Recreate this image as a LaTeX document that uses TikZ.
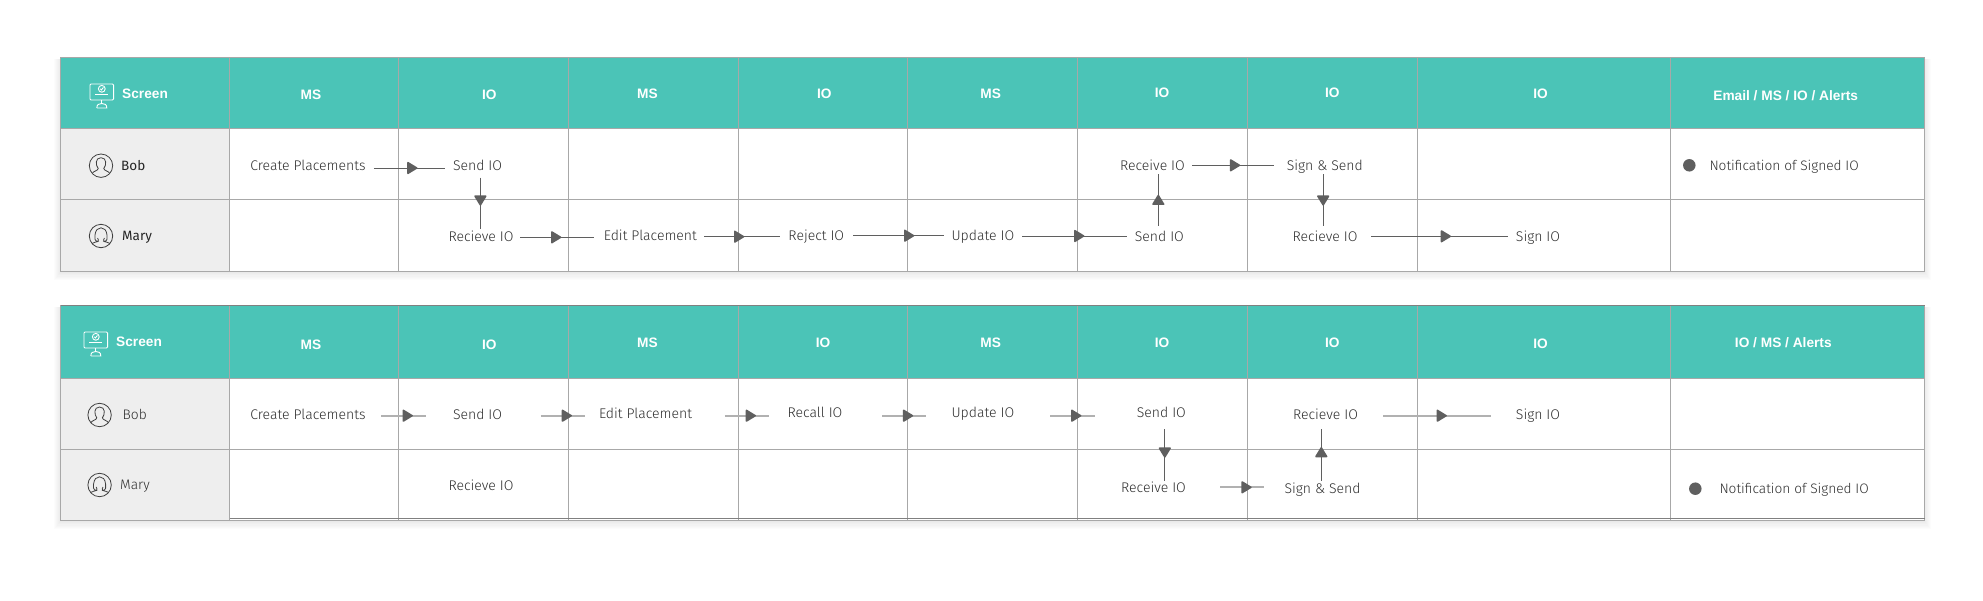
\documentclass[tikz,border=0pt]{standalone}
\usepackage{fontspec}
\setmainfont{Liberation Sans}
\newfontfamily\lightfont{Fira Sans Light}
\newfontfamily\regfont{Fira Sans}
\usetikzlibrary{arrows.meta,decorations.markings,calc}
\definecolor{teal1}{HTML}{4BC4B7}
\definecolor{rowgray}{HTML}{EEEEEE}
\definecolor{gridc}{HTML}{A8A8A8}
\definecolor{headgray}{HTML}{5F5F5F}
\definecolor{txtc}{HTML}{2E2E2E}
\tikzset{
  hd/.tip={Triangle[length=11pt,width=13pt,round,line width=1.5pt,color=headgray]},
  grid line/.style={draw=gridc,line width=1pt},
  lbl/.style={font=\lightfont\fontsize{14}{15}\selectfont,text=txtc,inner sep=0pt,text height=10pt,text depth=.5pt,minimum height=14pt,anchor=center},
  notelbl/.style={lbl,font=\lightfont\fontsize{13.7}{15}\selectfont,anchor=west},
  hdr/.style={font=\bfseries\fontsize{13.7}{15}\selectfont,text=white,inner sep=0pt,text height=10pt,text depth=.5pt,anchor=center},
  namedark/.style={font=\regfont\fontsize{13.5}{15}\selectfont,text=black!85,inner sep=0pt,text height=10pt,text depth=.5pt,anchor=west},
  namelight/.style={font=\lightfont\fontsize{13.8}{15}\selectfont,text=txtc,inner sep=0pt,text height=10pt,text depth=.5pt,anchor=west},
  darkflow/.style={draw=headgray,line width=1pt},
  lightflow/.style={draw=gridc!90,line width=2pt},
  dotmark/.style={circle,fill=headgray,draw=none,minimum size=12.5pt,inner sep=0pt},
}
% from, to, gap1, gap2, y, tip x, style
\newcommand{\hflow}[7]{%
  \pgfpointanchor{#1}{east}\pgfgetlastxy{\ax}{\ay}%
  \pgfmathsetlengthmacro{\dist}{#6pt-\ax-#3pt}%
  \draw[#7,postaction={decorate},decoration={markings,mark=at position \dist with {\arrow{hd}}}]
    ([xshift=#3pt]#1.east |- 0,#5) -- ([xshift=-#4pt]#2.west |- 0,#5);}
% from, to, x, gap1, gap2, tip y : downward
\newcommand{\dflow}[6]{%
  \pgfpointanchor{#1}{south}\pgfgetlastxy{\ax}{\ay}%
  \pgfmathsetlengthmacro{\dist}{#6pt+\ay-#4pt}%
  \draw[darkflow,postaction={decorate},decoration={markings,mark=at position \dist with {\arrow{hd}}}]
    ([yshift=-#4pt]#3,0 |- #1.south) -- ([yshift=#5pt]#3,0 |- #2.north);}
% upward
\newcommand{\uflow}[6]{%
  \pgfpointanchor{#1}{north}\pgfgetlastxy{\ax}{\ay}%
  \pgfmathsetlengthmacro{\dist}{-\ay-#4pt-#6pt}%
  \draw[darkflow,postaction={decorate},decoration={markings,mark=at position \dist with {\arrow{hd}}}]
    ([yshift=#4pt]#3,0 |- #1.north) -- ([yshift=-#5pt]#3,0 |- #2.south);}
% monitor icon
\newcommand{\monitor}[2]{%
  \begin{scope}[shift={(#1,#2)},draw=white,line width=.9pt]
    \draw[rounded corners=1pt] (-11.8,-8) rectangle (11.8,8);
    \draw (0,-3.2) circle (3.4);
    \draw (-1.6,-3.2) -- (-.4,-2) -- (1.6,-4.6);
    \draw (-6.5,2.8) -- (6.5,2.8);
    \draw (0,8) -- (0,11.5);
    \draw (-5,16) -- (5,16) .. controls (5,12.5) and (3,11.5) .. (0,11.5) .. controls (-3,11.5) and (-5,12.5) .. (-5,16);
  \end{scope}}
% person icons
\newcommand{\manicon}[2]{%
  \begin{scope}[shift={(#1,#2)},draw=black!75,line width=.8pt]
    \draw (0,0) circle (11.7);
    \draw (-8.8,7.7) .. controls (-7.5,5.2) and (-3.2,5.2) .. (-2.8,2.8)
      .. controls (-5.5,-.5) and (-6,-8) .. (0,-8)
      .. controls (6,-8) and (5.5,-.5) .. (2.8,2.8)
      .. controls (3.2,5.2) and (7.5,5.2) .. (8.8,7.7);
  \end{scope}}
\newcommand{\womanicon}[2]{%
  \begin{scope}[shift={(#1,#2)},draw=black!75,line width=.8pt]
    \draw (0,0) circle (11.7);
    \draw (-9,7.5) .. controls (-7.5,6) and (-5,6.5) .. (-3.2,5.5)
      .. controls (-6.5,5) and (-6.5,2) .. (-6,-1)
      .. controls (-5.5,-6) and (-3,-8.2) .. (0,-8.2)
      .. controls (3,-8.2) and (5.5,-6) .. (6,-1)
      .. controls (6.5,2) and (6.5,5) .. (3.2,5.5)
      .. controls (5,6.5) and (7.5,6) .. (9,7.5);
    \draw (-3.2,5.5) .. controls (-2.2,4.5) and (-2.6,3.5) .. (-3.4,2);
    \draw (3.2,5.5) .. controls (2.2,4.5) and (2.6,3.5) .. (3.4,2);
  \end{scope}}
% shadow
\newcommand{\softshadow}[4]{%
  \foreach \k in {1,...,7}{
    \fill[black,opacity=.012] (#1-\k*.9,#2+1) rectangle (#3+\k*.9,#4+\k*1.25);
  }}
% table frame: top, header bottom, row, bottom
\newcommand{\tableframe}[4]{%
  \softshadow{60.5}{#1}{1924.5}{#4}
  \fill[white] (60.5,#1) rectangle (1924.5,#4);
  \fill[teal1] (60.5,#1) rectangle (1924.5,#2);
  \fill[rowgray] (60.5,#2) rectangle (229.5,#4);
  \foreach \cx in {229.5,398.5,568.5,738.5,907.5,1077.5,1247.5,1417.5,1670.5}{
    \draw[grid line] (\cx,#1) -- (\cx,#4);
  }
  \draw[grid line] (60.5,#1) rectangle (1924.5,#4);
  \draw[grid line] (60.5,#2) -- (1924.5,#2);
  \draw[grid line] (60.5,#3) -- (1924.5,#3);
}
\begin{document}
\begin{tikzpicture}[x=1pt,y=-1pt]
\useasboundingbox (0,0) rectangle (1983,600);
\fill[white] (0,0) rectangle (1983,600);
% ---------- table 1
\tableframe{57.5}{128.5}{199.5}{271.5}
\monitor{101.8}{92}
\node[hdr,anchor=west] (t1screen) at (122,94) {Screen};
\node[hdr] (t1h1) at (311,94.7) {MS};
\node[hdr] (t1h2) at (489.3,94.7) {IO};
\node[hdr] (t1h3) at (647.5,94) {MS};
\node[hdr] (t1h4) at (824.3,94) {IO};
\node[hdr] (t1h5) at (990.7,94) {MS};
\node[hdr] (t1h6) at (1162,93) {IO};
\node[hdr] (t1h7) at (1332.4,93) {IO};
\node[hdr] (t1h8) at (1540.6,94) {IO};
\node[hdr] (t1h9) at (1785.7,96) {Email / MS / IO / Alerts};
\manicon{101}{165.7}
\womanicon{101}{236}
\node[namedark] (t1bob) at (121,166) {Bob};
\node[namedark] (t1mary) at (122,236) {Mary};
\node[lbl] (t1cp) at (308,166) {Create Placements};
\node[lbl] (t1sd) at (477.6,166) {Send IO};
\node[lbl] (t1rc) at (481,237) {Recieve IO};
\node[lbl] (t1ed) at (650.4,236) {Edit Placement};
\node[lbl] (t1rj) at (816.3,236) {Reject IO};
\node[lbl] (t1up) at (982.9,236) {Update IO};
\node[lbl] (t1se) at (1159.4,236.7) {Send IO};
\node[lbl] (t1rv) at (1152.4,165.7) {Receive IO};
\node[lbl] (t1ss) at (1324.8,165.7) {Sign \& Send};
\node[lbl] (t1rd) at (1325,237) {Recieve IO};
\node[lbl] (t1sg) at (1538,236.7) {Sign IO};
\node[dotmark] (t1dot) at (1689.3,165.3) {};
\node[notelbl] (t1nt) at (1709.3,166) {Notification of Signed IO};
\hflow{t1cp}{t1sd}{8}{8}{168}{417.5}{darkflow}
\hflow{t1rc}{t1ed}{6.4}{9.7}{237.3}{561.4}{darkflow}
\hflow{t1ed}{t1rj}{7.2}{8}{236.7}{744.3}{darkflow}
\hflow{t1rj}{t1up}{8.9}{7.9}{235.7}{914.3}{darkflow}
\hflow{t1up}{t1se}{7.8}{7.3}{236}{1084.4}{darkflow}
\hflow{t1rv}{t1ss}{7.3}{12.2}{165.3}{1240.2}{darkflow}
\hflow{t1rd}{t1sg}{13.6}{8}{236.3}{1451}{darkflow}
\dflow{t1sd}{t1rc}{480.4}{4.4}{.7}{205.7}
\uflow{t1se}{t1rv}{1158.3}{3.7}{1.3}{194.7}
\dflow{t1ss}{t1rd}{1323.2}{1.3}{4}{205.7}
% ---------- table 2
\tableframe{305.5}{378.5}{449.5}{520.5}
\draw[draw=black!50,line width=1pt] (60.5,305.5) -- (1924.5,305.5);
\draw[draw=black!50,line width=1pt] (229.5,518.5) -- (1924.5,518.5);
\monitor{95.8}{340}
\node[hdr,anchor=west] (t2screen) at (116,342) {Screen};
\node[hdr] (t2h1) at (311,344.3) {MS};
\node[hdr] (t2h2) at (489.3,344.3) {IO};
\node[hdr] (t2h3) at (647.5,343) {MS};
\node[hdr] (t2h4) at (823,343) {IO};
\node[hdr] (t2h5) at (990.7,343) {MS};
\node[hdr] (t2h6) at (1162,343) {IO};
\node[hdr] (t2h7) at (1332.4,343) {IO};
\node[hdr] (t2h8) at (1540.6,344) {IO};
\node[hdr] (t2h9) at (1783.3,343) {IO / MS / Alerts};
\manicon{99.6}{415}
\womanicon{99.6}{485}
\node[namelight] (t2bob) at (122.5,415) {Bob};
\node[namelight] (t2mary) at (120,485) {Mary};
\node[lbl] (t2cp) at (308,415) {Create Placements};
\node[lbl] (t2sd) at (477.6,415) {Send IO};
\node[lbl] (t2rc) at (481,486) {Recieve IO};
\node[lbl] (t2ed) at (645.5,414) {Edit Placement};
\node[lbl] (t2rl) at (815,413) {Recall IO};
\node[lbl] (t2up) at (982.9,413) {Update IO};
\node[lbl] (t2se) at (1161.4,413) {Send IO};
\node[lbl] (t2rv) at (1153.5,488) {Receive IO};
\node[lbl] (t2ss) at (1322.5,489) {Sign \& Send};
\node[lbl] (t2rd) at (1325.5,414.7) {Recieve IO};
\node[lbl] (t2sg) at (1538,414.3) {Sign IO};
\node[dotmark] (t2dot) at (1695.3,488.7) {};
\node[notelbl] (t2nt) at (1719.3,489) {Notification of Signed IO};
\hflow{t2cp}{t2sd}{15.4}{26.5}{415.7}{412.9}{lightflow}
\hflow{t2sd}{t2ed}{38.6}{13.6}{415.7}{572}{lightflow}
\hflow{t2ed}{t2rl}{32.6}{18.6}{415.7}{756}{lightflow}
\hflow{t2rl}{t2up}{39.6}{25}{415.7}{913.2}{lightflow}
\hflow{t2up}{t2se}{36}{41.9}{415.7}{1081.4}{lightflow}
\hflow{t2rv}{t2ss}{34}{20.2}{487.3}{1251.7}{lightflow}
\hflow{t2rd}{t2sg}{25.3}{24.5}{415.7}{1446.9}{lightflow}
\dflow{t2se}{t2rv}{1164.8}{9}{.3}{457.7}
\uflow{t2ss}{t2rd}{1321.3}{1.3}{7.3}{447}
\end{tikzpicture}
\end{document}
